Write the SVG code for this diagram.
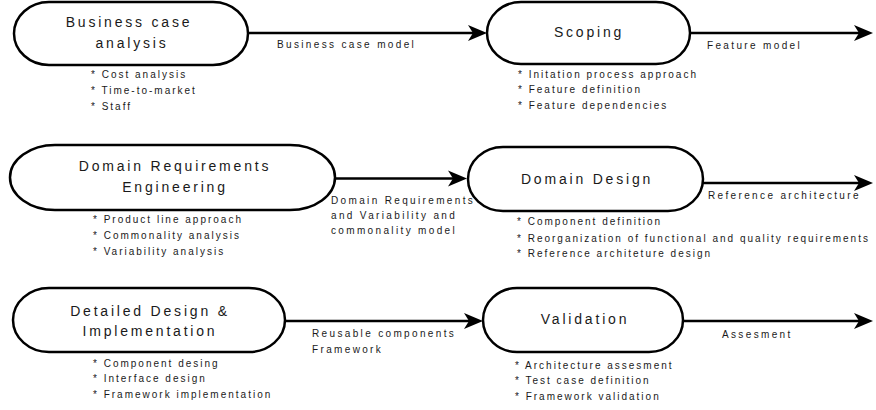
<svg xmlns="http://www.w3.org/2000/svg" width="876" height="410" viewBox="0 0 876 410">
<style>
.node{fill:#fff;stroke:#000;stroke-width:2.5}
.title{font-family:"Liberation Sans",Arial,sans-serif;font-size:14px;letter-spacing:2.8px;fill:#1a1a1a;text-anchor:middle}
.small{font-family:"Liberation Sans",Arial,sans-serif;font-size:10px;letter-spacing:2px;fill:#1a1a1a}
.lbl{font-family:"Liberation Sans",Arial,sans-serif;font-size:10px;letter-spacing:2.35px;fill:#1a1a1a}
.edge{fill:none;stroke:#000;stroke-width:2.5}
</style>
<defs>
<marker id="arr" markerUnits="userSpaceOnUse" markerWidth="20" markerHeight="20" viewBox="0 0 20 20" refX="6" refY="9" orient="auto" overflow="visible">
<path d="M0,1 L19,9 L0,17 L5,9 Z" fill="#000"/>
</marker>
</defs>
<g id="connectors">
<line class="edge" x1="248" y1="33" x2="474" y2="33" marker-end="url(#arr)"/>
<line class="edge" x1="690" y1="33" x2="860" y2="33" marker-end="url(#arr)"/>
<line class="edge" x1="335" y1="178.5" x2="454" y2="178.5" marker-end="url(#arr)"/>
<line class="edge" x1="703" y1="183" x2="860" y2="183" marker-end="url(#arr)"/>
<line class="edge" x1="285" y1="321" x2="470" y2="321" marker-end="url(#arr)"/>
<line class="edge" x1="683" y1="321" x2="860" y2="321" marker-end="url(#arr)"/>
<text class="lbl" x="277" y="48">Business case model</text>
<text class="lbl" x="707" y="49">Feature model</text>
<text class="lbl" x="331" y="204">Domain Requirements</text>
<text class="lbl" x="331" y="219">and Variability and</text>
<text class="lbl" x="331" y="234">commonality model</text>
<text class="lbl" x="708" y="199">Reference architecture</text>
<text class="lbl" x="312" y="337">Reusable components</text>
<text class="lbl" x="312" y="353">Framework</text>
<text class="lbl" x="722" y="338">Assesment</text>
</g>
<g id="business-case-analysis">
<rect class="node" x="14" y="2" width="234" height="63" rx="35" ry="31.5"/>
<text class="title" x="129" y="27">Business case</text>
<text class="title" x="132" y="48">analysis</text>
<text class="small" x="91" y="78">* Cost analysis</text>
<text class="small" x="91" y="94">* Time-to-market</text>
<text class="small" x="91" y="110">* Staff</text>
</g>
<g id="scoping">
<rect class="node" x="487" y="2" width="203" height="62" rx="34" ry="31"/>
<text class="title" x="589" y="37">Scoping</text>
<text class="small" x="518" y="78">* Initation process approach</text>
<text class="small" x="518" y="93">* Feature definition</text>
<text class="small" x="518" y="109">* Feature dependencies</text>
</g>
<g id="domain-requirements-engineering">
<rect class="node" x="10" y="145" width="325" height="65" rx="45" ry="32.5"/>
<text class="title" x="175" y="171">Domain Requirements</text>
<text class="title" x="175" y="192">Engineering</text>
<text class="small" x="93" y="223">* Product line approach</text>
<text class="small" x="93" y="239">* Commonality analysis</text>
<text class="small" x="93" y="255">* Variability analysis</text>
</g>
<g id="domain-design">
<rect class="node" x="468" y="147" width="235" height="64" rx="35" ry="32"/>
<text class="title" x="587" y="184">Domain Design</text>
<text class="small" x="517" y="225">* Component definition</text>
<text class="small" x="517" y="242">* Reorganization of functional and quality requirements</text>
<text class="small" x="517" y="257">* Reference architeture design</text>
</g>
<g id="detailed-design-implementation">
<rect class="node" x="13" y="288" width="272" height="64" rx="36" ry="32"/>
<text class="title" x="150" y="316">Detailed Design &amp;</text>
<text class="title" x="150" y="336">Implementation</text>
<text class="small" x="93" y="367">* Component desing</text>
<text class="small" x="93" y="382">* Interface design</text>
<text class="small" x="93" y="398">* Framework implementation</text>
</g>
<g id="validation">
<rect class="node" x="483" y="288" width="200" height="64" rx="34" ry="32"/>
<text class="title" x="585" y="324">Validation</text>
<text class="small" x="515" y="369">* Architecture assesment</text>
<text class="small" x="515" y="384">* Test case definition</text>
<text class="small" x="515" y="400">* Framework validation</text>
</g>
</svg>
